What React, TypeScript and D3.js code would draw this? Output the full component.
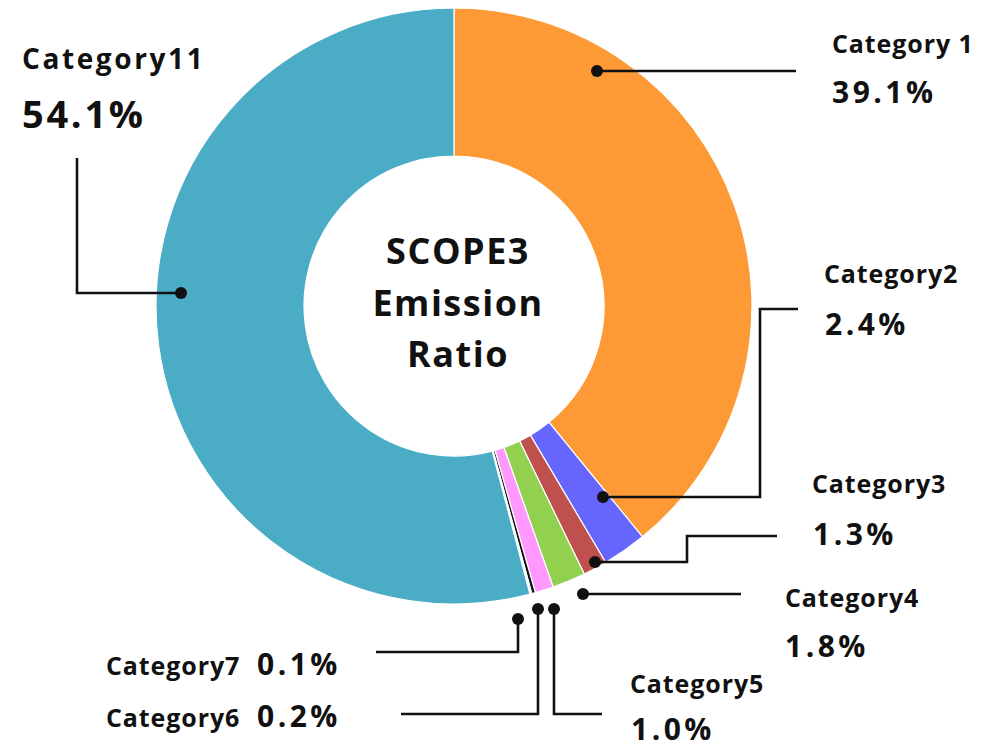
import React from "react";
import * as d3 from "d3";

const categories = ["Category 1", "Category2", "Category3", "Category4", "Category5", "Category6", "Category7", "Category11"];
const values = [39.1, 2.4, 1.3, 1.8, 1.0, 0.2, 0.1, 54.1];
const colors = ["#FD9A36", "#6666FF", "#C0504D", "#92D050", "#FF99FF", "#111111", "#DCEFF4", "#4BACC6"];
const centerLines = ["SCOPE3", "Emission", "Ratio"];

// annotation layout (leader dots, elbows and label anchors)
const dotPos: [number, number][] = [[597, 71], [603, 497], [595, 562], [583, 594], [554, 609], [538, 609], [518, 619], [181, 293]];
const elbows: [number, number][][] = [
  [[796, 71]],
  [[760, 497], [760, 309], [798, 309]],
  [[687, 562], [687, 536], [777, 536]],
  [[741, 594]],
  [[554, 714], [602, 714]],
  [[538, 714], [401, 714]],
  [[518, 652], [376, 652]],
  [[77, 293], [77, 158]],
];
const labelPos: [number, number][] = [[832, 53], [824, 283], [812, 493], [785, 607], [630, 693], [106, 727], [106, 675], [22, 69]];
const pctPos: [number, number][] = [[832, 103], [825, 335], [813, 545], [785, 657], [631, 740], [257, 727], [257, 675], [22, 128]];

const W = 988, H = 750;
const cx = 454, cy = 306, outerR = 298, innerR = 150;
const FONT = "'Open Sans', 'Noto Sans', sans-serif";

export default function App() {
  const pie = d3.pie<number>().sort(null).value((d) => d).startAngle(0).endAngle(2 * Math.PI);
  const arcs = pie(values);
  const arcGen = d3.arc<d3.PieArcDatum<number>>().innerRadius(innerR).outerRadius(outerR);
  const line = d3.line();

  return (
    <svg width={W} height={H} style={{ position: "absolute", left: 0, top: 0, background: "#fff" }} fontFamily={FONT}>
      <g transform={`translate(${cx},${cy})`}>
        {arcs.map((a, i) => (
          <path key={i} d={arcGen(a) || ""} fill={colors[i]} stroke="#fff" strokeWidth={1.2} />
        ))}
      </g>
      {centerLines.map((t, i) => (
        <text key={t} x={cx + 4} y={264 + i * 51.5} textAnchor="middle" fontSize={36} fontWeight={700} letterSpacing={1.5} fill="#111">
          {t}
        </text>
      ))}
      {categories.map((c, i) => {
        const pts: [number, number][] = [dotPos[i], ...elbows[i]];
        const big = i === categories.length - 1;
        return (
          <g key={c}>
            <path d={line(pts) || ""} fill="none" stroke="#111" strokeWidth={2.6} />
            <circle cx={dotPos[i][0]} cy={dotPos[i][1]} r={6} fill="#111" />
            <text x={labelPos[i][0]} y={labelPos[i][1]} fontSize={big ? 28 : 25} fontWeight={700} letterSpacing={big ? 2.6 : 0.9} fill="#111">
              {c}
            </text>
            <text x={pctPos[i][0]} y={pctPos[i][1]} fontSize={big ? 38 : 30} fontWeight={700} letterSpacing={big ? 2.7 : 3.5} fill="#111">
              {values[i].toFixed(1) + "%"}
            </text>
          </g>
        );
      })}
    </svg>
  );
}
